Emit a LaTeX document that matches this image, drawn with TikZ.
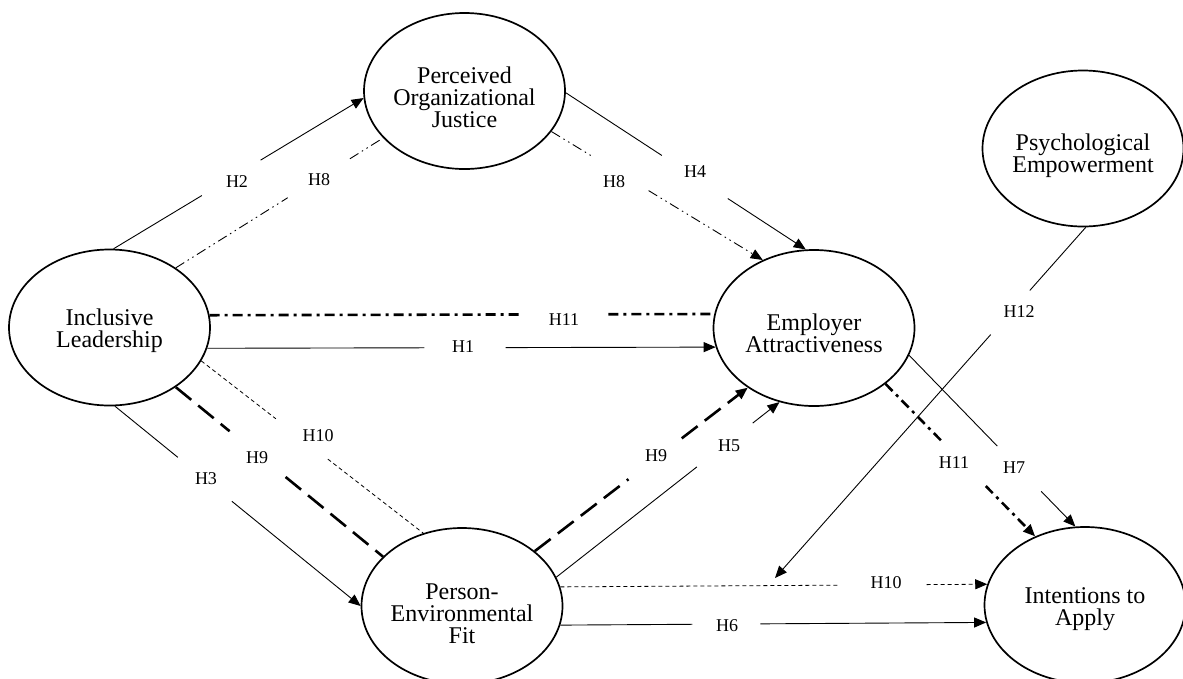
\documentclass[tikz,border=0pt]{standalone}
\usepackage{fontspec}
\setmainfont{Liberation Serif}
\usetikzlibrary{arrows.meta,calc,shapes.geometric}
\newcommand{\hypline}[5]{\draw[#1] (#2) -- ($(#2)!#4!(#3)$) ($(#2)!#5!(#3)$) -- (#3);}
\tikzset{
 ell/.style={draw, ellipse, line width=1.7pt, minimum width=201pt, minimum height=156pt, inner sep=0pt},
 etext/.style={font=\fontsize{24}{22}\selectfont, align=center, inner sep=0pt},
 hlab/.style={font=\fontsize{18}{20}\selectfont, inner sep=1pt},
 tip/.style={-{Triangle[length=12pt,width=10pt]}},
 solidarr/.style={line width=0.9pt, tip},
 ddot/.style={line width=0.9pt, dash pattern=on 10pt off 4pt on 1.5pt off 4pt on 1.5pt off 4pt},
 thickdd/.style={line width=2.6pt, dash pattern=on 10pt off 5pt on 3pt off 5pt},
 thickdash/.style={line width=2.6pt, dash pattern=on 20pt off 9pt},
 finedash/.style={line width=0.8pt, dash pattern=on 4pt off 3pt},
}
\begin{document}
\begin{tikzpicture}[x=1pt,y=-1pt]
\useasboundingbox (0,0) rectangle (1183,678);
\clip (0,0) rectangle (1183,678);
% ellipses
\node[ell] (il)  at (109.5,327.5) {};
\node[ell] (poj) at (464.5,91) {};
\node[ell] (ea)  at (814,328) {};
\node[ell] (pe)  at (1083,148.5) {};
\node[ell] (pef) at (462,606) {};
\node[ell] (ita) at (1085,605) {};
\node[etext] (il-t)  at ($(il)+(0,3)$) {Inclusive\\Leadership};
\node[etext] (poj-t) at ($(poj)+(0,6)$) {Perceived\\Organizational\\Justice};
\node[etext] (ea-t)  at ($(ea)+(0,5)$) {Employer\\Attractiveness};
\node[etext] (pe-t)  at ($(pe)+(0,7.5)$) {Psychological\\Empowerment};
\node[etext] (pef-t) at ($(pef)+(0,7.7)$) {Person-\\Environmental\\Fit};
\node[etext] (ita-t) at ($(ita)+(0,4.6)$) {Intentions to\\Apply};
\coordinate (m12) at (775,578);
% connectors
\hypline{solidarr}{il.87}{poj.184}{0.353}{0.588}
\hypline{ddot}{il.42}{poj.210}{0.54}{0.84}
\hypline{ddot,tip}{poj.335}{ea.127}{0.2}{0.46}
\hypline{solidarr}{poj.359}{ea.96}{0.40}{0.675}
\hypline{thickdd}{il.7}{ea.172}{0.62}{0.79}
\hypline{solidarr}{il.348}{ea.191}{0.427}{0.587}
\hypline{finedash}{il.340}{pef.118}{0.336}{0.57}
\hypline{thickdash}{il.318}{pef.148}{0.26}{0.53}
\hypline{solidarr}{il.274}{pef.180}{0.256}{0.476}
\hypline{thickdash,tip}{pef.37}{ea.222}{0.44}{0.69}
\hypline{solidarr}{pef.17}{ea.245}{0.63}{0.88}
\hypline{thickdd,tip}{ea.322}{ita.126}{0.38}{0.67}
\hypline{solidarr}{ea.344}{ita.97}{0.53}{0.795}
\hypline{finedash,tip}{pef.11}{ita.168}{0.655}{0.858}
\hypline{solidarr}{pef.349}{ita.190}{0.31}{0.47}
\hypline{solidarr}{pe.272}{m12}{0.18}{0.306}
% labels
\node[hlab] (lh2)  at (237,182) {H2};
\node[hlab] (lh8a) at (319,180) {H8};
\node[hlab] (lh8b) at (614,182) {H8};
\node[hlab] (lh4)  at (695,172) {H4};
\node[hlab] (lh12) at (1019,312) {H12};
\node[hlab] (lh11a) at (564,320) {H11};
\node[hlab] (lh1)  at (463,347) {H1};
\node[hlab] (lh10a) at (318,436) {H10};
\node[hlab] (lh9a) at (257,458) {H9};
\node[hlab] (lh3)  at (206,479) {H3};
\node[hlab] (lh9b) at (656,456) {H9};
\node[hlab] (lh5)  at (729,446) {H5};
\node[hlab] (lh11b) at (954,463) {H11};
\node[hlab] (lh7)  at (1014,468) {H7};
\node[hlab] (lh10b) at (886,583) {H10};
\node[hlab] (lh6)  at (727,626) {H6};
\end{tikzpicture}
\end{document}
